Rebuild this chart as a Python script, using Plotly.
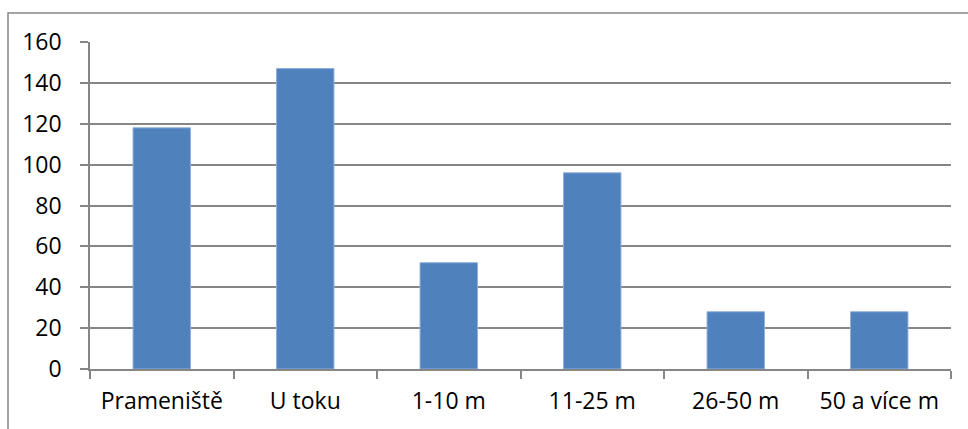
import plotly.graph_objects as go

# Number of records per site category
categories = ["Prameniště", "U toku", "1-10 m", "11-25 m", "26-50 m", "50 a více m"]
counts = [118, 147, 52, 96, 28, 28]
y_ticks = [0, 20, 40, 60, 80, 100, 120, 140, 160]

W, H = 968, 429
L, R, T, B = 90, 17, 42, 60
plot_w = W - L - R
plot_h = H - T - B

grid_color = "#868686"
font = dict(family="Open Sans, Liberation Sans, sans-serif", size=23, color="#000000")

fig = go.Figure(
    go.Bar(
        x=categories,
        y=counts,
        marker=dict(color="#4F81BD", line=dict(color="#8FAEDB", width=1)),
    )
)

# Outer chart frame (continues past the right and bottom page edges)
fx0 = (8 - L) / plot_w
fy1 = 1 + (T - 13) / plot_h
frame = dict(type="rect", xref="paper", yref="paper",
             x0=fx0, x1=1.2, y0=-0.4, y1=fy1,
             line=dict(color="#868686", width=1.5), fillcolor="rgba(0,0,0,0)",
             layer="below")

fig.update_layout(
    width=W, height=H,
    margin=dict(l=L, r=R, t=T, b=B, pad=0),
    paper_bgcolor="white", plot_bgcolor="white",
    bargap=0.6,
    showlegend=False,
    font=font,
    shapes=[frame],
    xaxis=dict(
        type="category",
        showgrid=False,
        showline=True, linecolor=grid_color, linewidth=1.5,
        ticks="outside", ticklen=8, tickcolor=grid_color, tickwidth=1.5,
        tickson="boundaries",
        tickfont=font,
        ticklabelstandoff=11,
        fixedrange=True,
    ),
    yaxis=dict(
        range=[0, 160],
        tickvals=y_ticks,
        showgrid=True, gridcolor=grid_color, gridwidth=1.5,
        zeroline=False,
        showline=True, linecolor=grid_color, linewidth=1.5,
        ticks="outside", ticklen=8, tickcolor=grid_color, tickwidth=1.5,
        tickfont=font,
        ticklabelstandoff=14,
        fixedrange=True,
    ),
)

fig.write_html("out.html", config={"displayModeBar": False})
